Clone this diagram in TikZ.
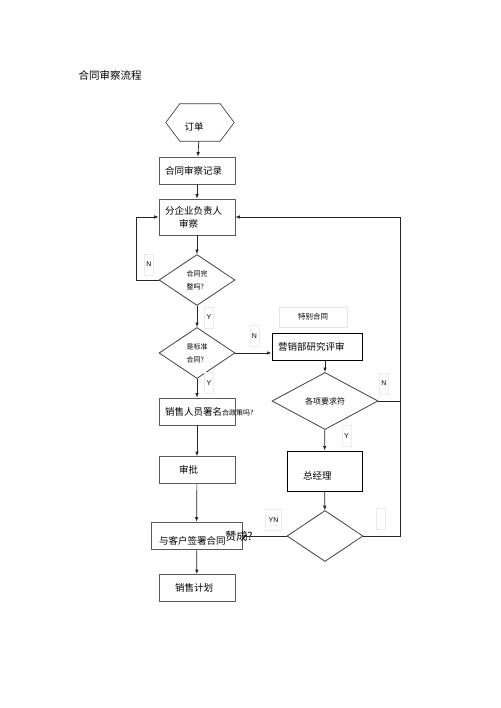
\documentclass[tikz,border=0pt]{standalone}
\usepackage{fontspec}
\setmainfont{Noto Sans CJK SC}
\newfontfamily\latinsans{Liberation Sans}
\usetikzlibrary{shapes.geometric, arrows.meta, positioning}

% lower a text without changing its box
\newcommand{\lowertext}[2]{\raisebox{-#1}[\height][\depth]{#2}}

\begin{document}
\begin{tikzpicture}[
    x=1pt, y=-1pt,
    box/.style={draw=black!65, line width=0.7pt, minimum height=27pt, inner xsep=6pt, inner ysep=0pt,
        text width=#1, align=left, font=\fontsize{9.5}{13}\selectfont},
    box/.default=64pt,
    boldbox/.style={box=#1, draw=black, line width=1pt},
    boldbox/.default=64pt,
    decision/.style={diamond, draw=black!75, line width=0.8pt, inner sep=0pt,
        minimum width=76pt, minimum height=51pt, font=\fontsize{7}{13}\selectfont, align=left},
    yn/.style={draw=black!8, line width=0.5pt, font=\latinsans\fontsize{7}{8}\selectfont,
        minimum width=9pt, minimum height=21pt, inner sep=0pt},
    arrow/.style={line width=0.7pt, draw=black!85, -{Latex[length=4.5pt, width=3.5pt]}},
    line/.style={line width=0.7pt, draw=black!85}
]
\useasboundingbox (0,0) rectangle (500,708);

% Columns of the chart
\def\colA{197}
\def\colB{325}
\def\rightX{400}

% Title
\node[anchor=west, font=\fontsize{10.5}{12}\selectfont] (title) at (75,75) {合同审察流程};

% Start: hexagon
\node[minimum width=68pt, minimum height=37pt, inner sep=0pt, font=\fontsize{9.5}{12}\selectfont]
    (order) at (200,122.5) {\lowertext{4.5pt}{订单}\hspace*{12pt}};
\draw[line, draw=black!75] ([xshift=14pt]order.north west) -- ([xshift=-14pt]order.north east)
    -- (order.east) -- ([xshift=-14pt]order.south east) -- ([xshift=14pt]order.south west)
    -- (order.west) -- cycle;

% Left column
\node[box] (record) at (\colA,170.5) {合同审察记录};
\node[box, minimum height=36pt] (review) at (\colA,217) {分企业负责人\\\hspace*{14pt}审察};
\node[decision] (complete) at (\colA,280) {合同完\\整吗?};
\node[decision] (standard) at (\colA,353) {是标准\\合同?};
\node[box] (sign) at (\colA,411.5) {销售人员署名\rlap{\fontsize{7}{9}\selectfont 合政策吗?}};
\node[box] (approve) at (\colA,470) {\hspace*{14pt}审批};
\node[box=79pt] (contract) at (196.5,535.5) {\hspace*{2pt}\lowertext{5pt}{与客户签署合同}};
\node[box] (plan) at (\colA,588) {\hspace*{10pt}销售计划};

% Right column
\node[draw=black!10, line width=0.5pt, minimum width=68pt, minimum height=20pt,
    font=\fontsize{7.5}{9}\selectfont] (special) at (313,317) {特别合同};
\node[boldbox=78pt] (market) at (317,346.5) {营销部研究评审};
\node[decision, minimum width=106pt, minimum height=57pt, font=\fontsize{8}{10}\selectfont]
    (require) at (\colB,401) {各项要求符};
\node[boldbox=63pt, minimum height=40pt] (manager) at (324.5,471) {\hspace*{10pt}\lowertext{5pt}{总经理}};
\node[decision] (agree) at (\colB,536) {};
\node[font=\fontsize{11}{13}\selectfont] (agreetxt) at (239,536) {赞成?};

% Y / N marks
\node[yn] (n1) at (149,264.5) {N};
\node[yn] (y1) at (209,317.5) {Y};
\node[yn] (n2) at (254.5,336) {N};
\node[yn] (y2) at (209,383) {Y};
\node[yn] (n3) at (384,383.5) {N};
\node[yn] (y3) at (346.5,436) {Y};
\node[yn, minimum width=16pt] (yn4) at (273.5,520) {YN};
\node[yn] (blank) at (381,519) {};

% Connectors
\coordinate (rtop) at (\rightX,217);
\draw[arrow] (order) -- (record);
\draw[arrow] (record) -- (review);
\draw[arrow] (review) -- (complete);
\draw[arrow] (complete.west) -- ++(-22,0) |- (review.west);
\draw[arrow] (complete) -- (standard);
\draw[arrow] (standard.east) -- (standard.east -| market.west);
\draw[arrow] (standard) -- (sign);
\draw[arrow] (sign) -- (approve);
\draw[arrow] (approve) -- (contract);
\draw[arrow] (contract) -- (plan);
\draw[arrow] (require.north |- market.south) -- (require.north);
\draw[arrow] (require) -- (manager);
\draw[arrow] (manager) -- (agree);
\draw[arrow] (agree.west) -- (agree.west -| contract.east);
\draw[line] (require.east) -- (require.east -| rtop);
\draw[arrow] (agree.east) -| (rtop) -- (review.east);

\end{tikzpicture}
\end{document}
